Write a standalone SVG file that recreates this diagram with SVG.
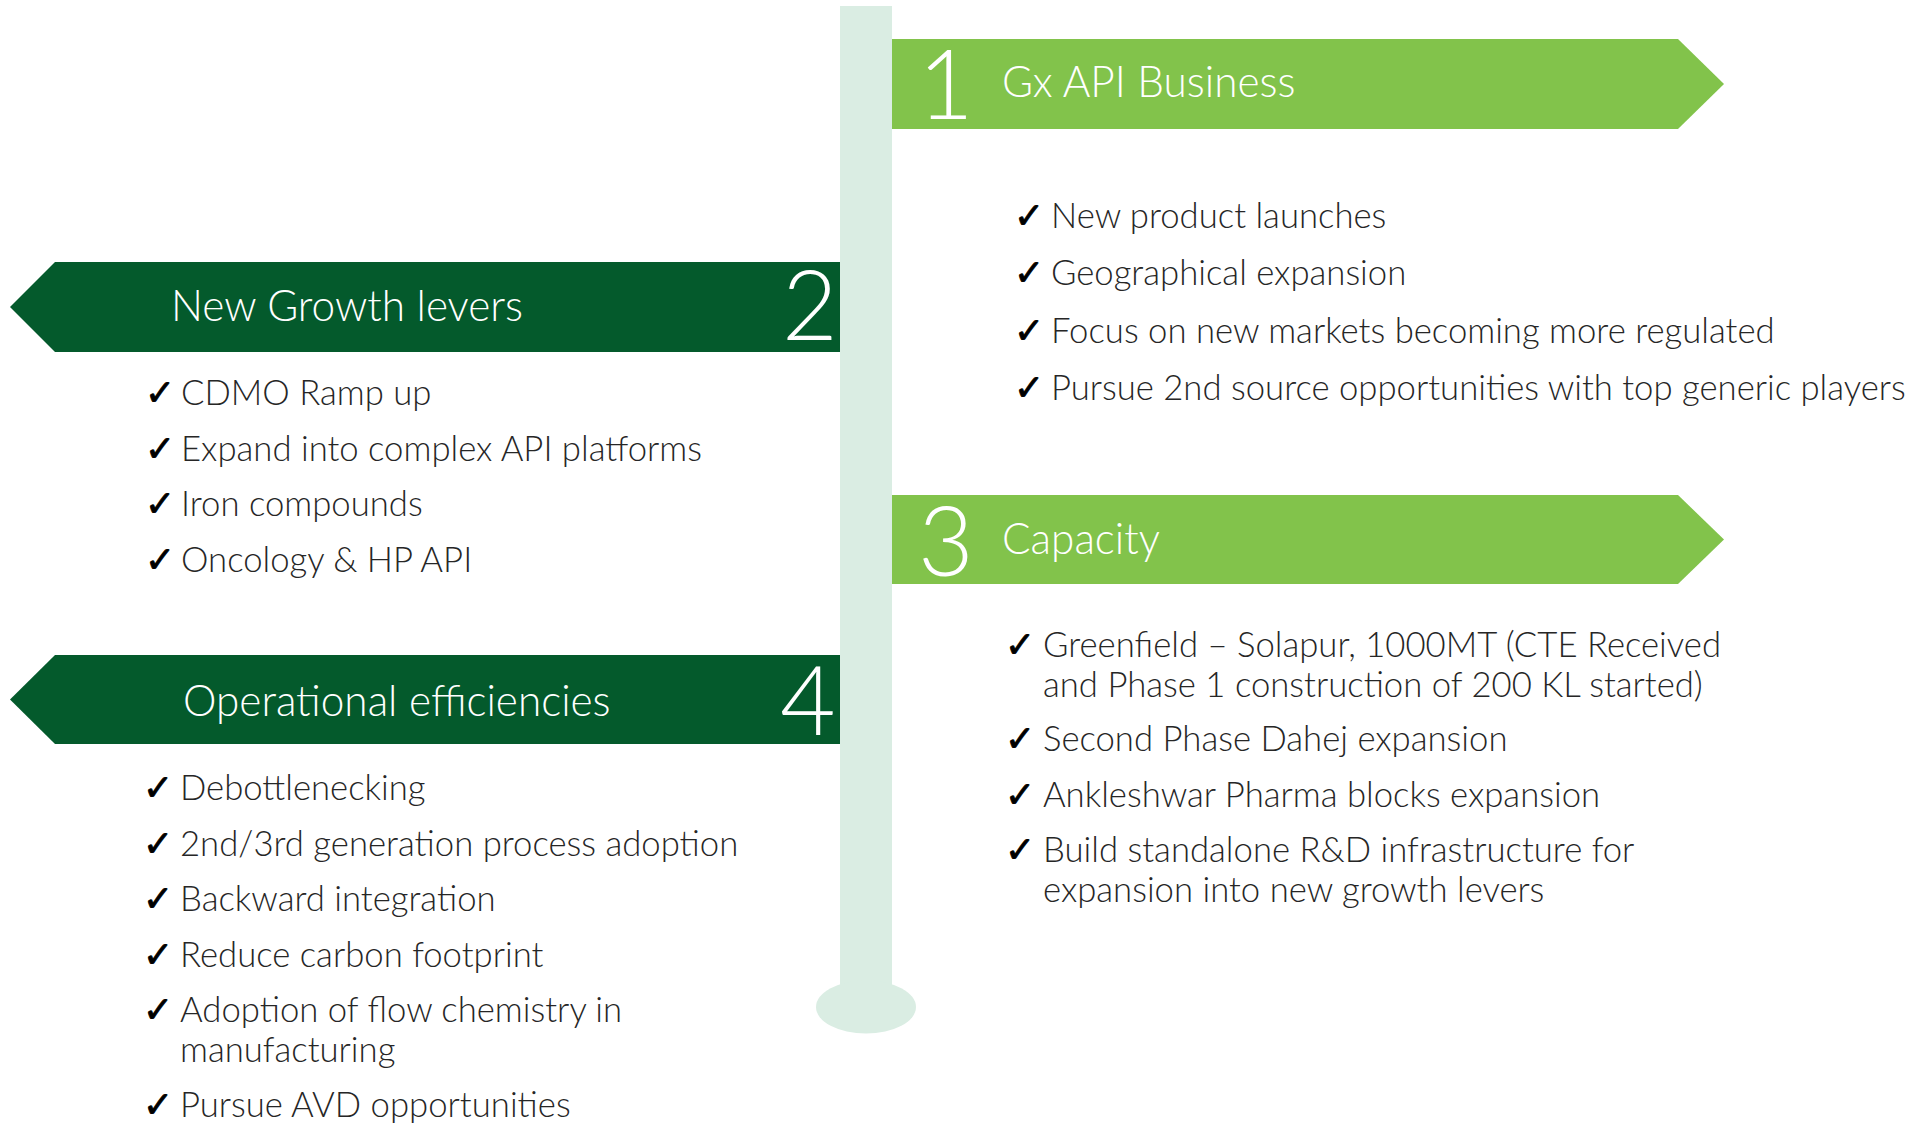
<svg xmlns="http://www.w3.org/2000/svg" width="1921" height="1125" viewBox="0 0 1921 1125">
  <style>
    .light { fill: #82C34B; }
    .dark { fill: #045A2C; }
    .stem { fill: #DAEDE3; }
    .num { font-family: Lato, "Liberation Sans", sans-serif; font-weight: 300; font-size: 96px; fill: #ffffff; }
    .head { font-family: Lato, "Liberation Sans", sans-serif; font-weight: 300; font-size: 42.3px; fill: #ffffff; }
    .item { font-family: Lato, "Liberation Sans", sans-serif; font-weight: 300; font-size: 34.7px; fill: #262626; }
    .tick { font-family: "DejaVu Sans", sans-serif; font-weight: 400; font-size: 36px; fill: #000000; stroke: #000000; stroke-width: 0.9px; }
  </style>

  <!-- central stem with rounded foot -->
  <g id="stem">
    <rect class="stem" x="840" y="6" width="52" height="1001"/>
    <ellipse class="stem" cx="866" cy="1007" rx="50" ry="26.5"/>
  </g>

  <!-- 1: Gx API Business -->
  <g id="node-1">
    <polygon class="light" points="892,39 1678,39 1724,84 1678,129 892,129"/>
    <text class="num" x="918" y="119">1</text>
    <text class="head" x="1002" y="97">Gx API Business</text>
    <text class="item" y="228"><tspan class="tick" x="1014">✓</tspan><tspan x="1051">New product launches</tspan></text>
    <text class="item" y="285"><tspan class="tick" x="1014">✓</tspan><tspan x="1051">Geographical expansion</tspan></text>
    <text class="item" y="343"><tspan class="tick" x="1014">✓</tspan><tspan x="1051">Focus on new markets becoming more regulated</tspan></text>
    <text class="item" y="400"><tspan class="tick" x="1014">✓</tspan><tspan x="1051">Pursue 2nd source opportunities with top generic players</tspan></text>
  </g>

  <!-- 2: New Growth levers -->
  <g id="node-2">
    <polygon class="dark" points="840,262 840,352 55,352 10,307 55,262"/>
    <text class="num" x="782" y="340">2</text>
    <text class="head" x="171" y="321">New Growth levers</text>
    <text class="item" y="405"><tspan class="tick" x="145">✓</tspan><tspan x="181">CDMO Ramp up</tspan></text>
    <text class="item" y="461"><tspan class="tick" x="145">✓</tspan><tspan x="181">Expand into complex API platforms</tspan></text>
    <text class="item" y="516"><tspan class="tick" x="145">✓</tspan><tspan x="181">Iron compounds</tspan></text>
    <text class="item" y="572"><tspan class="tick" x="145">✓</tspan><tspan x="181">Oncology &amp; HP API</tspan></text>
  </g>

  <!-- 3: Capacity -->
  <g id="node-3">
    <polygon class="light" points="892,495 1678,495 1724,539.5 1678,584 892,584"/>
    <text class="num" x="918" y="576">3</text>
    <text class="head" x="1002" y="554">Capacity</text>
    <text class="item" y="657"><tspan class="tick" x="1005">✓</tspan><tspan x="1043">Greenfield – Solapur, 1000MT (CTE Received</tspan></text>
    <text class="item" x="1043" y="697">and Phase 1 construction of 200 KL started)</text>
    <text class="item" y="751"><tspan class="tick" x="1005">✓</tspan><tspan x="1043">Second Phase Dahej expansion</tspan></text>
    <text class="item" y="807"><tspan class="tick" x="1005">✓</tspan><tspan x="1043">Ankleshwar Pharma blocks expansion</tspan></text>
    <text class="item" y="862"><tspan class="tick" x="1005">✓</tspan><tspan x="1043">Build standalone R&amp;D infrastructure for</tspan></text>
    <text class="item" x="1043" y="902">expansion into new growth levers</text>
  </g>

  <!-- 4: Operational efficiencies -->
  <g id="node-4">
    <polygon class="dark" points="840,655 840,744 55,744 10,699.5 55,655"/>
    <text class="num" x="780" y="735">4</text>
    <text class="head" x="183" y="716">Operational efficiencies</text>
    <text class="item" y="800"><tspan class="tick" x="143">✓</tspan><tspan x="180">Debottlenecking</tspan></text>
    <text class="item" y="856"><tspan class="tick" x="143">✓</tspan><tspan x="180">2nd/3rd generation process adoption</tspan></text>
    <text class="item" y="911"><tspan class="tick" x="143">✓</tspan><tspan x="180">Backward integration</tspan></text>
    <text class="item" y="967"><tspan class="tick" x="143">✓</tspan><tspan x="180">Reduce carbon footprint</tspan></text>
    <text class="item" y="1022"><tspan class="tick" x="143">✓</tspan><tspan x="180">Adoption of flow chemistry in</tspan></text>
    <text class="item" x="180" y="1062">manufacturing</text>
    <text class="item" y="1117"><tspan class="tick" x="143">✓</tspan><tspan x="180">Pursue AVD opportunities</tspan></text>
  </g>
</svg>
